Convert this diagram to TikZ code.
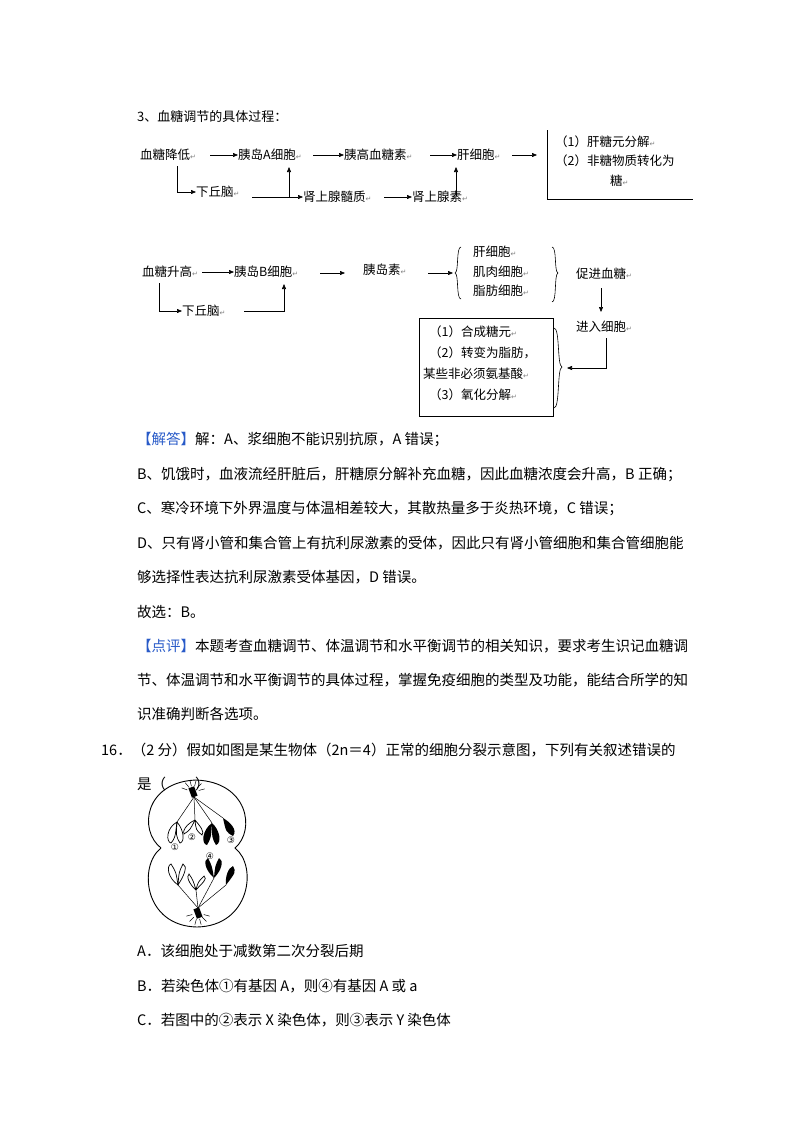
\documentclass[tikz,border=0pt]{standalone}
\usepackage{fontspec}
\setmainfont{Liberation Serif}
\newfontfamily\cjk{Noto Sans CJK SC}
\newfontfamily\djv{DejaVu Sans}
\usetikzlibrary{arrows.meta,decorations.pathreplacing}
\definecolor{hdblue}{RGB}{40,90,200}
\newcommand{\rtm}{{\djv\fontsize{7}{8}\selectfont\color{gray}↵}}
\begin{document}
\begin{tikzpicture}[x=1pt,y=-1pt,
  dg/.style={anchor=west,inner sep=0pt,font=\cjk\fontsize{12.5}{14}\selectfont},
  tx/.style={anchor=west,inner sep=0pt,font=\cjk\fontsize{14.5}{16}\selectfont},
  ar/.style={-{Triangle[length=5pt,width=4pt]},line width=0.6pt},
  ln/.style={line width=0.6pt},
  ch/.style={line width=0.7pt},
  lb/.style={inner sep=0pt,font=\djv\fontsize{9}{9}\selectfont}]
\useasboundingbox (0,0) rectangle (800,1132);
\node[tx,font=\cjk\fontsize{13}{15}\selectfont] (t3) at (137,117) {3、血糖调节的具体过程：};
% top diagram
\node[dg] (a1) at (140,155) {血糖降低\rtm};
\node[dg] (a2) at (238,155) {胰岛A细胞\rtm};
\node[dg] (a3) at (344,155) {胰高血糖素\rtm};
\node[dg] (a4) at (457,155) {肝细胞\rtm};
\draw[ar] (210,155) -- (a2.west);
\draw[ar] (313,155) -- (a3.west);
\draw[ar] (430,155) -- (a4.west);
\draw[ar] (512,155) -- (537,155);
\draw[ln] (547,130) -- (547,199) -- (693,199);
\node[dg] (b1) at (555,142) {（1）肝糖元分解\rtm};
\node[dg] (b2) at (555,161) {（2）非糖物质转化为};
\node[dg] (b3) at (610,181) {糖\rtm};
\node[dg] (h1) at (196,192) {下丘脑\rtm};
\draw[ar] (177,166) -- (177,192) -- (h1.west);
\node[dg] (m1) at (303,197) {肾上腺髓质\rtm};
\node[dg] (m2) at (412,197) {肾上腺素\rtm};
\draw[ar] (252,197) -- (m1.west);
\draw[ar] (289,197) -- (289,167);
\draw[ar] (384,197) -- (m2.west);
\draw[ar] (456,196) -- (456,167);
% bottom diagram
\node[dg] (c1) at (142,272) {血糖升高\rtm};
\node[dg] (c2) at (234,272) {胰岛B细胞\rtm};
\node[dg] (c3) at (363,270) {胰岛素\rtm};
\draw[ar] (202,272) -- (c2.west);
\draw[ar] (320,273) -- (345,273);
\draw[ar] (428,273) -- (453,273);
\draw[ln] (461,247) .. controls (456,247) and (459,272) .. (455,273) .. controls (459,274) and (456,299) .. (461,299);
\node[dg] (d1) at (473,252) {肝细胞\rtm};
\node[dg] (d2) at (473,272) {肌肉细胞\rtm};
\node[dg] (d3) at (473,291) {脂肪细胞\rtm};
\draw[ln] (552,247) .. controls (557,247) and (554,272) .. (558,273) .. controls (554,274) and (557,302) .. (552,302);
\node[dg] (e1) at (576,274) {促进血糖\rtm};
\node[dg] (e2) at (576,327) {进入细胞\rtm};
\draw[ar] (601,288) -- (601,312);
\node[dg] (h2) at (182,311) {下丘脑\rtm};
\draw[ar] (159,283) -- (159,311) -- (h2.west);
\draw[ar] (244,311) -- (284,311) -- (284,284);
\draw[ln] (419,318) rectangle (553,416);
\node[dg] (f1) at (429,332) {（1）合成糖元\rtm};
\node[dg] (f2) at (429,353) {（2）转变为脂肪，};
\node[dg] (f3) at (423,374) {某些非必须氨基酸\rtm};
\node[dg] (f4) at (429,395) {（3）氧化分解\rtm};
\draw[ln] (554,328) .. controls (560,328) and (557,366) .. (562,367) .. controls (557,368) and (560,408) .. (554,408);
\draw[ar] (606,338) -- (606,368) -- (567,368);
% text
\node[tx] (p1) at (137,440) {{\color{hdblue}【解答】}解：A、浆细胞不能识别抗原，A 错误；};
\node[tx] (p2) at (137,475) {B、饥饿时，血液流经肝脏后，肝糖原分解补充血糖，因此血糖浓度会升高，B 正确；};
\node[tx] (p3) at (137,509) {C、寒冷环境下外界温度与体温相差较大，其散热量多于炎热环境，C 错误；};
\node[tx] (p4) at (137,543) {D、只有肾小管和集合管上有抗利尿激素的受体，因此只有肾小管细胞和集合管细胞能};
\node[tx] (p5) at (137,577) {够选择性表达抗利尿激素受体基因，D 错误。};
\node[tx] (p6) at (137,612) {故选：B。};
\node[tx] (p7) at (137,646) {{\color{hdblue}【点评】}本题考查血糖调节、体温调节和水平衡调节的相关知识，要求考生识记血糖调};
\node[tx] (p8) at (137,680) {节、体温调节和水平衡调节的具体过程，掌握免疫细胞的类型及功能，能结合所学的知};
\node[tx] (p9) at (137,714) {识准确判断各选项。};
\node[tx] (q1) at (101,750) {16．（2 分）假如如图是某生物体（2n＝4）正常的细胞分裂示意图，下列有关叙述错误的};
\node[tx] (q2) at (137,784) {是（　　）};
\node[tx] (o1) at (137,951) {A．该细胞处于减数第二次分裂后期};
\node[tx] (o2) at (137,986) {B．若染色体①有基因 A，则④有基因 A 或 a};
\node[tx] (o3) at (137,1020) {C．若图中的②表示 X 染色体，则③表示 Y 染色体};
% cell
\draw[line width=0.9pt] (161,848) .. controls (138,830) and (145,782) .. (196,780) .. controls (248,782) and (256,830) .. (235,848)
  .. controls (258,866) and (250,926) .. (197,927) .. controls (144,926) and (138,866) .. (161,848);
\foreach \a in {200,230,255,285,315,345} \draw[line width=0.5pt] (193,792) ++(\a:6) -- ++(\a:6);
\foreach \a in {15,45,75,105,135,165} \draw[line width=0.5pt] (198,913) ++(\a:6) -- ++(\a:6);
\fill[rotate around={20:(193,792)}] (190,787) rectangle (196,797);
\fill[rotate around={20:(198,913)}] (195,908) rectangle (201,918);
\foreach \p in {(177,822),(195,820),(212,823),(223,818)} \draw[line width=0.5pt] (194,797) -- \p;
\foreach \p in {(178,885),(196,890),(214,878),(226,885)} \draw[line width=0.5pt] (198,908) -- \p;
% top chromosomes
\draw[ch] (177,822) .. controls (166,828) and (166,842) .. (171,843) .. controls (175,838) .. (177,822);
\draw[ch] (177,822) .. controls (184,830) and (185,842) .. (180,843) .. controls (176,836) .. (177,822);
\draw[ch] (195,820) .. controls (186,824) and (182,832) .. (184,834) .. controls (190,830) .. (195,820);
\draw[ch] (195,820) .. controls (200,826) and (205,832) .. (202,835) .. controls (196,830) .. (195,820);
\fill (212,823) .. controls (202,830) and (201,844) .. (207,845) .. controls (211,838) .. (212,823);
\fill (212,823) .. controls (220,830) and (222,843) .. (216,845) .. controls (212,838) .. (212,823);
\fill (223,818) .. controls (230,822) and (238,830) .. (233,836) .. controls (226,832) .. (223,818);
% bottom chromosomes
\draw[ch] (178,885) .. controls (168,878) and (166,866) .. (171,864) .. controls (176,872) .. (178,885);
\draw[ch] (178,885) .. controls (184,876) and (188,866) .. (183,864) .. controls (179,872) .. (178,885);
\draw[ch] (196,890) .. controls (189,884) and (186,876) .. (189,874) .. controls (193,880) .. (196,890);
\draw[ch] (196,890) .. controls (202,883) and (208,879) .. (204,876) .. controls (198,882) .. (196,890);
\fill (214,878) .. controls (205,870) and (203,860) .. (208,858) .. controls (212,866) .. (214,878);
\fill (214,878) .. controls (222,870) and (224,860) .. (219,858) .. controls (215,866) .. (214,878);
\fill (226,885) .. controls (225,877) and (228,868) .. (233,866) .. controls (236,872) .. (226,885);
\node[lb] (n1) at (175,847) {①};
\node[lb] (n2) at (192,837) {②};
\node[lb] (n3) at (231,840) {③};
\node[lb] (n4) at (210,856) {④};
\end{tikzpicture}
\end{document}
